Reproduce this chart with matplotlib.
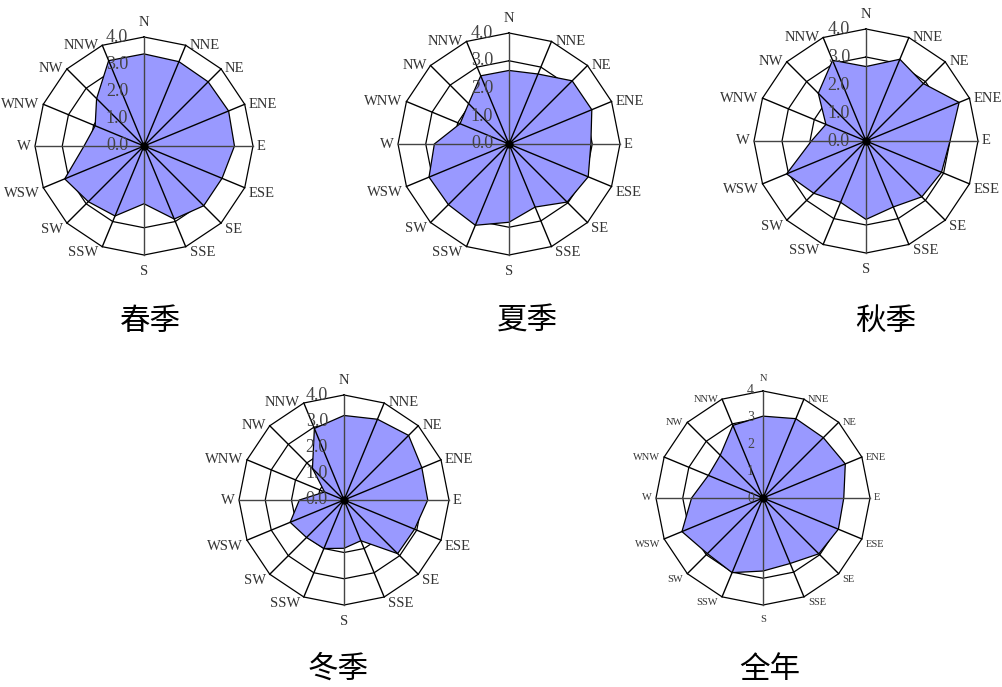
import numpy as np
import matplotlib
matplotlib.use("Agg")
import matplotlib.pyplot as plt

# wind direction frequency (%), 16 directions clockwise from N
directions = ["N", "NNE", "NE", "ENE", "E", "ESE", "SE", "SSE",
              "S", "SSW", "SW", "WSW", "W", "WNW", "NW", "NNW"]

spring = [3.38, 3.35, 3.33, 3.36, 3.32, 3.10, 3.10, 2.90,
          2.12, 2.78, 2.89, 3.15, 2.20, 1.94, 2.46, 3.39]
summer = [2.65, 2.73, 3.22, 3.23, 2.95, 3.09, 2.96, 2.46,
          2.82, 3.17, 3.09, 3.12, 2.69, 1.91, 2.06, 2.66]
autumn = [2.66, 3.16, 2.90, 3.60, 3.00, 2.92, 2.82, 2.55,
          2.80, 2.37, 2.64, 3.07, 1.95, 1.55, 2.41, 3.12]
winter = [3.22, 3.33, 3.48, 3.21, 3.19, 2.91, 2.89, 1.68,
          1.84, 2.00, 2.02, 2.22, 1.70, 0.80, 1.70, 2.95]
annual = [3.06, 3.21, 3.19, 3.33, 3.02, 3.05, 2.95, 2.65,
          2.73, 3.02, 2.94, 3.28, 2.67, 2.21, 2.26, 2.94]

titles = ["春季", "夏季", "秋季", "冬季", "全年"]
ring_values = [1, 2, 3, 4]
seasonal_ticks = ["0.0", "1.0", "2.0", "3.0", "4.0"]
annual_ticks = ["0", "1", "2", "3", "4"]

W, H = 1002, 687
DPI = 100
FILL = "#9999ff"


def draw_rose(fig, cx, cy, R, values, ticks, label_size, tick_size, tick_gap, title, tx, ty):
    # axes square in pixel units, data limits +-L
    L = 5.6
    half = R * L / 4.0
    ax = fig.add_axes([(cx - half) / W, 1 - (cy + half) / H, 2 * half / W, 2 * half / H])
    ax.set_xlim(-L, L)
    ax.set_ylim(-L, L)
    ax.axis("off")

    n = len(directions)
    theta = np.arange(n) * 2 * np.pi / n
    sx, sy = np.sin(theta), np.cos(theta)

    # polygon rings
    for rv in ring_values:
        xs = np.append(rv * sx, rv * sx[0])
        ys = np.append(rv * sy, rv * sy[0])
        ax.plot(xs, ys, color="black", lw=0.9, zorder=1)

    vals = np.array(values)
    ax.fill(vals * sx, vals * sy, facecolor=FILL, edgecolor="black", lw=0.9, zorder=2)

    # spokes
    for i in range(n):
        c = "#444444" if i % 4 == 0 else "black"
        ax.plot([0, 4 * sx[i]], [0, 4 * sy[i]], color=c, lw=1.0, zorder=3)
    ax.plot(0, 0, "o", color="black", ms=5, zorder=4)

    # direction labels
    px = 72.0 / DPI
    for i, d in enumerate(directions):
        x, y = 4 * sx[i], 4 * sy[i]
        if abs(sx[i]) < 0.01:
            ha = "center"
            dx = 0
        elif sx[i] > 0:
            ha = "left"
            dx = 4
        else:
            ha = "right"
            dx = -4
        if i == 0:
            va, dy = "bottom", 8
        elif i == 8:
            va, dy = "top", -10
        else:
            va = "center"
            dy = -6 if sy[i] < -0.1 else 0
        ax.annotate(d, (x, y), xytext=(dx * px, dy * px), textcoords="offset points",
                    ha=ha, va=va, fontsize=label_size, color="#333333",
                    family="Liberation Serif", zorder=5)

    # radial tick labels along N axis
    for k, t in enumerate(ticks):
        ax.annotate(t, (0, k), xytext=(-tick_gap * px, 0), textcoords="offset points",
                    ha="right", va="center", fontsize=tick_size, color="#444444",
                    family="Liberation Serif", zorder=6)

    fig.text(tx / W, 1 - ty / H, title, ha="center", va="center", fontsize=22,
             fontweight="light", family=["Noto Sans CJK SC", "DejaVu Sans"])


fig = plt.figure(figsize=(W / DPI, H / DPI), dpi=DPI)

draw_rose(fig, 144, 146, 109, spring, seasonal_ticks, 10.5, 13, 16, titles[0], 150, 321)
draw_rose(fig, 509, 144, 111, summer, seasonal_ticks, 10.5, 13, 16, titles[1], 527, 321)
draw_rose(fig, 866, 141, 112, autumn, seasonal_ticks, 10.5, 13, 16, titles[2], 886, 321)
draw_rose(fig, 344, 500, 105, winter, seasonal_ticks, 10.5, 13, 16, titles[3], 338, 669)
draw_rose(fig, 763, 498, 107, annual, annual_ticks, 7.5, 10, 9, titles[4], 770, 669)

fig.savefig("out.png", dpi=DPI)
